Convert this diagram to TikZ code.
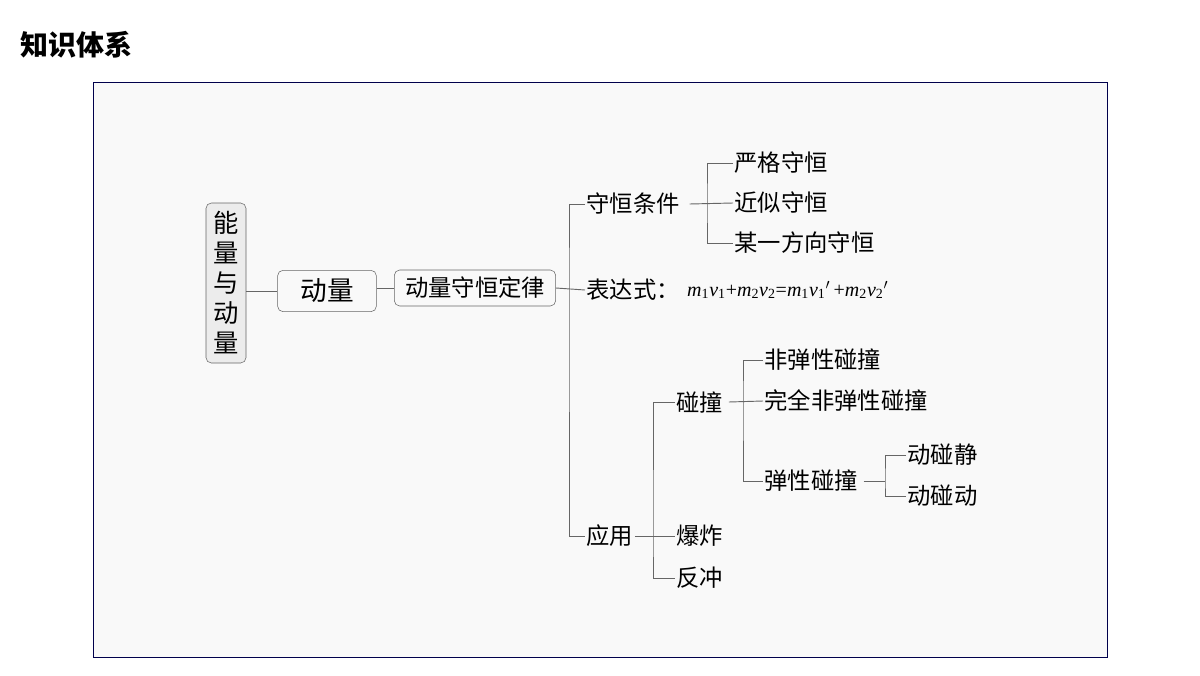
\documentclass[tikz,border=0pt]{standalone}
\usepackage{fontspec}
\setmainfont{Liberation Serif}
\newfontfamily\cjk{Noto Sans CJK SC}
\usetikzlibrary{positioning}
\newcommand{\mv}[1]{\textit{m}\textsubscript{#1}\textit{v}\textsubscript{#1}}
\tikzset{
  item/.style = {font=\cjk\fontsize{17.5}{19}\selectfont, inner sep=1pt, anchor=west},
  box/.style  = {draw=gray!80!black, rounded corners=4pt, fill=gray!5, thin,
                 font=\cjk\fontsize{17.5}{19}\selectfont, inner sep=2pt},
  link/.style = {draw=gray!80!black, line width=0.7pt}
}
\begin{document}
\begin{tikzpicture}[x=0.75pt,y=-0.75pt]
\useasboundingbox (0,0) rectangle (1200,675);
\fill[white] (0,0) rectangle (1200,675);
\node[anchor=west, font=\cjk\bfseries\fontsize{21}{23}\selectfont] (title) at (16,45) {知识体系};
\draw[fill=gray!5, draw=blue!30!black, line width=0.5pt] (93,82) rectangle (1107,657);

% main chain
\node[box, fill=gray!15, minimum width=30pt, minimum height=120pt, align=center,
      font=\cjk\fontsize{19}{22.5}\selectfont] (root) at (226,283) {能\\量\\与\\动\\量};
\node[box, minimum width=74pt, minimum height=31pt, font=\cjk\fontsize{20}{22}\selectfont] (mom) at (327,291) {动量};
\node[box, minimum width=121pt, minimum height=27pt] (law) at (475,288) {动量守恒定律};
\draw[link] (root.east |- mom.west) -- (mom.west);
\draw[link] (mom.east |- law.west) -- (law.west);

% second level
\node[item] (cond) at (585,204) {守恒条件};
\node[item] (expr) at (585,290) {表达式：};
\node[item, font=\fontsize{15}{17}\selectfont, right=3pt of expr] (form) {\mv{1}+\mv{2}=\mv{1}$'$\,+\mv{2}$'$};
\node[item] (app) at (585,536) {应用};
\coordinate (trunk) at (569,290);
\draw[link] (law.east) -- (expr.west);
\draw[link] (cond.west) -| (trunk) |- (app.west);

% conditions
\node[item] (c1) at (733,163) {严格守恒};
\node[item] (c2) at (733,203) {近似守恒};
\node[item] (c3) at (733,243) {某一方向守恒};
\coordinate (cb) at (707,203);
\draw[link] (cond.east) ++(6pt,0) -- (c2.west);
\draw[link] (c1.west) -| (cb) |- (c3.west);

% applications
\node[item] (a1) at (675,402) {碰撞};
\node[item] (a2) at (675,536) {爆炸};
\node[item] (a3) at (675,578) {反冲};
\coordinate (ab) at (653,536);
\draw[link] (app.east) -- (a2.west);
\draw[link] (a1.west) -| (ab) |- (a3.west);

% collisions
\node[item] (k1) at (763,360) {非弹性碰撞};
\node[item] (k2) at (763,401) {完全非弹性碰撞};
\node[item] (k3) at (763,481) {弹性碰撞};
\coordinate (kb) at (743,401);
\draw[link] (a1.east) ++(3pt,0) -- (k2.west);
\draw[link] (k1.west) -| (kb) |- (k3.west);

% elastic
\node[item] (e1) at (906,455) {动碰静};
\node[item] (e2) at (906,496) {动碰动};
\coordinate (eb) at (885,481);
\draw[link] (k3.east) ++(3pt,0) -- (eb);
\draw[link] (e1.west) -| (eb) |- (e2.west);
\end{tikzpicture}
\end{document}
